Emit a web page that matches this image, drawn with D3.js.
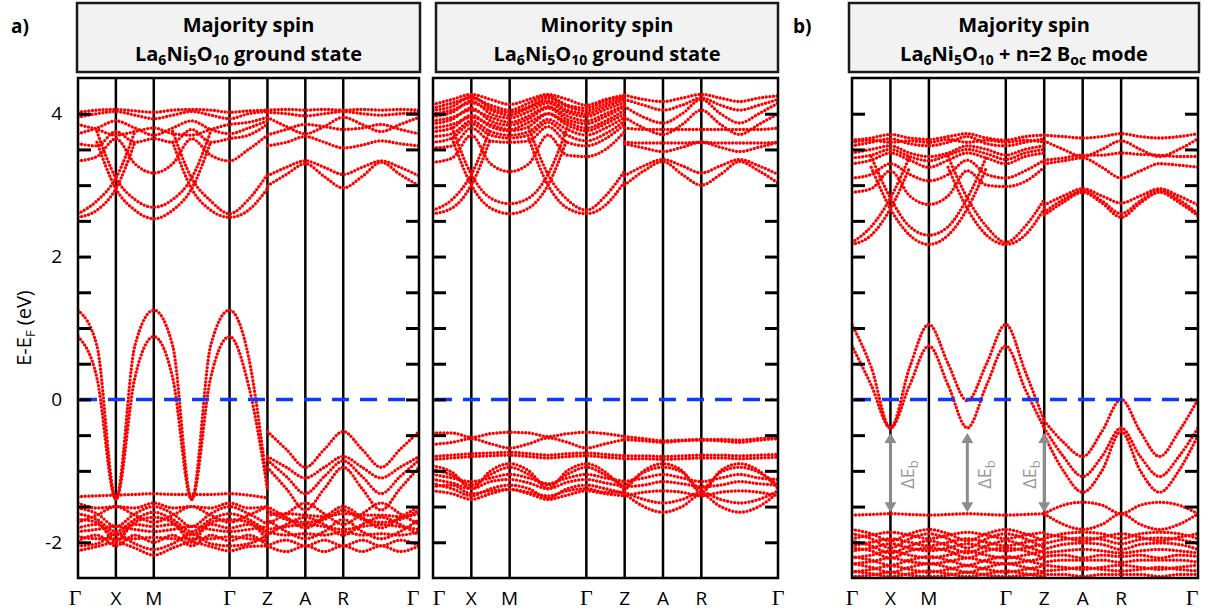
<!DOCTYPE html>
<html>
<head>
<meta charset="utf-8">
<script src="https://cdn.jsdelivr.net/npm/d3@7"></script>
<style>
body { margin: 0; background: #fff; }
text { font-family: "Open Sans", sans-serif; }
</style>
</head>
<body>
<svg id="bands" width="1211" height="613"></svg>
<script>
// k path: Γ X M Γ Z A R Γ
const kPos = [0, 1, 2, 4, 5, 6, 7, 9];
const kNames = ["Γ", "X", "M", "Γ", "Z", "A", "R", "Γ"];
// sampled k points, Γ..Z and Z..Γ
const kLeft = [0, 0.5, 1, 1.5, 2, 2.5, 3, 3.5, 4, 4.5, 5];
const kRight = [5, 5.5, 6, 6.5, 7, 7.5, 8, 8.5, 9];

const yTicks = [-2, -1.5, -1, -0.5, 0, 0.5, 1, 1.5, 2, 2.5, 3, 3.5, 4];
const yLabels = [-2, 0, 2, 4];

const _ = null;

// majority spin, ground state
const majGsLeft = [
  [1.25, 0.75, -1.4, 0.75, 1.25, 0.75, -1.4, 0.75, 1.25, 0.6, -1.25],
  [0.88, 0.3, -1.4, 0.3, 0.88, 0.3, -1.4, 0.3, 0.88, 0.2, -1.25],
  [-1.36, -1.35, -1.34, -1.33, -1.32, -1.33, -1.33, -1.33, -1.32, -1.34, -1.38],
  [-1.45, -1.52, -1.5, -1.52, -1.45, -1.52, -1.5, -1.52, -1.45, -1.52, -1.5],
  [-1.52, -1.6, -1.78, -1.6, -1.5, -1.6, -1.78, -1.6, -1.5, -1.6, -1.75],
  [-1.6, -1.68, -1.85, -1.68, -1.58, -1.68, -1.85, -1.68, -1.6, -1.68, -1.85],
  [-1.72, -1.62, -1.5, -1.62, -1.72, -1.62, -1.5, -1.62, -1.72, -1.62, -1.5],
  [-1.8, -1.75, -1.9, -1.75, -1.78, -1.75, -1.9, -1.75, -1.8, -1.75, -1.9],
  [-1.85, -1.82, -1.78, -1.82, -1.85, -1.82, -1.78, -1.82, -1.85, -1.82, -1.78],
  [-1.92, -1.95, -1.95, -1.95, -1.93, -1.95, -1.95, -1.95, -1.92, -1.95, -1.98],
  [-1.98, -1.9, -2.05, -1.9, -2.0, -1.9, -2.05, -1.9, -1.98, -1.9, -2.05],
  [-2.05, -2.02, -1.88, -2.02, -2.1, -2.02, -1.88, -2.02, -2.05, -2.02, -1.9],
  [-2.12, -2.06, -2.0, -2.08, -2.18, -2.08, -2.0, -2.06, -2.12, -2.06, -2.05],
  [-1.68, -1.72, -1.98, -1.72, -1.65, -1.72, -1.98, -1.72, -1.68, -1.72, -1.98],
  [2.55, 2.65, 2.95, 3.6, _, _, _, _, _, _, _],
  [_, 3.6, 2.95, 2.65, 2.53, 2.65, 2.95, 3.6, _, _, _],
  [_, _, _, _, _, 3.6, 2.95, 2.65, 2.55, 2.65, 2.95],
  [2.6, 2.78, 3.1, 3.75, _, _, _, _, _, _, _],
  [_, 3.75, 3.1, 2.8, 2.69, 2.8, 3.1, 3.75, _, _, _],
  [_, _, _, _, _, 3.75, 3.1, 2.78, 2.6, 2.8, 3.15],
  [3.34, 3.4, 3.65, 3.3, 3.17, 3.3, 3.65, 3.42, 3.34, 3.5, 3.7],
  [3.58, 3.55, 3.75, 3.6, 3.65, 3.6, 3.78, 3.6, 3.65, 3.7, 3.85],
  [3.72, 3.8, 3.9, 3.8, 3.7, 3.8, 3.9, 3.78, 3.72, 3.8, 3.9],
  [3.85, 3.78, 3.7, 3.75, 3.8, 3.72, 3.7, 3.78, 3.85, 3.88, 3.95],
  [3.95, 4.0, 4.03, 3.98, 3.93, 3.98, 4.03, 3.98, 3.93, 4.0, 4.03],
  [4.02, 4.05, 4.06, 4.04, 4.02, 4.05, 4.06, 4.05, 4.02, 4.04, 4.05]
];
const majGsRight = [
  [-0.45, -0.7, -0.95, -0.7, -0.45, -0.7, -0.95, -0.7, -0.45],
  [-0.8, -0.95, -1.1, -0.95, -0.8, -0.95, -1.1, -0.95, -0.8],
  [-0.85, -1.08, -1.32, -1.08, -0.86, -1.08, -1.32, -1.08, -0.85],
  [-0.95, -1.25, -1.55, -1.25, -0.95, -1.25, -1.55, -1.25, -0.95],
  [-1.75, -1.6, -1.45, -1.6, -1.75, -1.6, -1.45, -1.6, -1.75],
  [-1.5, -1.65, -1.8, -1.65, -1.5, -1.65, -1.8, -1.65, -1.5],
  [-1.62, -1.6, -1.62, -1.64, -1.6, -1.62, -1.62, -1.64, -1.6],
  [-1.55, -1.68, -1.72, -1.68, -1.55, -1.68, -1.72, -1.68, -1.55],
  [-1.9, -1.75, -1.65, -1.75, -1.9, -1.75, -1.65, -1.75, -1.9],
  [-1.68, -1.85, -1.95, -1.85, -1.68, -1.85, -1.95, -1.85, -1.68],
  [-1.82, -1.78, -1.75, -1.78, -1.82, -1.78, -1.75, -1.78, -1.82],
  [-1.85, -1.9, -1.88, -1.9, -1.85, -1.9, -1.88, -1.9, -1.85],
  [-2.05, -1.97, -2.05, -1.97, -2.05, -1.97, -2.05, -1.97, -2.05],
  [-2.05, -2.13, -2.05, -2.13, -2.05, -2.13, -2.05, -2.13, -2.05],
  [3.13, 3.25, 3.34, 3.25, 3.15, 3.25, 3.34, 3.25, 3.13],
  [2.99, 3.15, 3.3, 3.12, 2.96, 3.12, 3.32, 3.15, 2.99],
  [3.55, 3.6, 3.68, 3.6, 3.52, 3.56, 3.62, 3.58, 3.55],
  [3.7, 3.78, 3.85, 3.82, 3.78, 3.8, 3.85, 3.78, 3.72],
  [3.95, 3.82, 3.72, 3.82, 3.95, 3.85, 3.75, 3.85, 3.95],
  [4.02, 4.0, 3.97, 4.0, 4.03, 4.0, 3.98, 4.0, 4.02],
  [4.05, 4.06, 4.05, 4.06, 4.05, 4.06, 4.05, 4.06, 4.05]
];

// minority spin, ground state
const minGsLeft = [
  [-0.47, -0.47, -0.53, -0.48, -0.46, -0.47, -0.52, -0.48, -0.46, -0.48, -0.52],
  [-0.63, -0.6, -0.55, -0.62, -0.68, -0.62, -0.54, -0.6, -0.68, -0.62, -0.56],
  [-0.8, -0.78, -0.76, -0.75, -0.74, -0.76, -0.78, -0.76, -0.75, -0.77, -0.79],
  [-0.84, -0.82, -0.8, -0.79, -0.78, -0.8, -0.82, -0.8, -0.79, -0.81, -0.83],
  [-0.93, -1.02, -1.25, -1.0, -0.9, -1.0, -1.25, -1.0, -0.9, -1.02, -1.28],
  [-0.98, -1.06, -1.2, -1.05, -0.95, -1.05, -1.2, -1.05, -0.95, -1.06, -1.22],
  [-1.05, -1.1, -1.15, -1.1, -1.05, -1.1, -1.18, -1.1, -1.05, -1.1, -1.15],
  [-1.12, -1.17, -1.25, -1.15, -1.12, -1.17, -1.25, -1.16, -1.12, -1.17, -1.22],
  [-1.18, -1.25, -1.35, -1.25, -1.2, -1.25, -1.38, -1.25, -1.2, -1.25, -1.32],
  [-1.22, -1.2, -1.32, -1.28, -1.26, -1.3, -1.35, -1.28, -1.25, -1.3, -1.3],
  [-1.28, -1.32, -1.4, -1.32, -1.26, -1.32, -1.4, -1.34, -1.28, -1.32, -1.35],
  [2.6, 2.68, 3.0, 3.65, _, _, _, _, _, _, _],
  [_, 3.65, 3.0, 2.68, 2.6, 2.68, 3.0, 3.65, _, _, _],
  [_, _, _, _, _, 3.65, 3.0, 2.68, 2.6, 2.72, 3.05],
  [2.65, 2.8, 3.15, 3.8, _, _, _, _, _, _, _],
  [_, 3.8, 3.15, 2.82, 2.74, 2.82, 3.15, 3.8, _, _, _],
  [_, _, _, _, _, 3.8, 3.15, 2.8, 2.65, 2.85, 3.2],
  [3.32, 3.38, 3.7, 3.3, 3.19, 3.3, 3.7, 3.42, 3.4, 3.5, 3.75],
  [3.52, 3.55, 3.8, 3.62, 3.6, 3.62, 3.82, 3.6, 3.55, 3.65, 3.85],
  [3.6, 3.66, 3.86, 3.7, 3.66, 3.7, 3.88, 3.7, 3.62, 3.72, 3.9],
  [3.68, 3.72, 3.9, 3.75, 3.7, 3.75, 3.92, 3.78, 3.7, 3.8, 3.95],
  [3.75, 3.8, 3.98, 3.82, 3.76, 3.82, 4.0, 3.84, 3.76, 3.86, 4.0],
  [3.8, 3.85, 3.95, 3.85, 3.78, 3.88, 4.0, 3.88, 3.8, 3.9, 4.05],
  [3.86, 3.92, 4.08, 3.9, 3.84, 3.93, 4.08, 3.92, 3.86, 3.96, 4.1],
  [3.9, 3.95, 4.05, 3.95, 3.88, 3.97, 4.1, 3.97, 3.9, 4.0, 4.12],
  [3.96, 4.02, 4.18, 4.0, 3.94, 4.03, 4.15, 4.02, 3.96, 4.06, 4.16],
  [4.0, 4.05, 4.15, 4.05, 3.98, 4.08, 4.18, 4.05, 4.0, 4.1, 4.2],
  [4.05, 4.1, 4.24, 4.08, 4.02, 4.1, 4.22, 4.1, 4.04, 4.14, 4.23],
  [4.08, 4.15, 4.22, 4.12, 4.05, 4.15, 4.25, 4.12, 4.08, 4.18, 4.25],
  [4.13, 4.2, 4.27, 4.2, 4.13, 4.2, 4.27, 4.2, 4.12, 4.2, 4.26]
];
const minGsRight = [
  [-0.52, -0.55, -0.58, -0.57, -0.56, -0.56, -0.57, -0.55, -0.53],
  [-0.56, -0.58, -0.6, -0.58, -0.57, -0.58, -0.6, -0.57, -0.55],
  [-0.79, -0.79, -0.8, -0.79, -0.78, -0.78, -0.79, -0.78, -0.77],
  [-0.83, -0.83, -0.84, -0.83, -0.82, -0.82, -0.83, -0.82, -0.81],
  [-1.28, -1.0, -0.9, -1.0, -1.3, -1.0, -0.9, -1.0, -1.25],
  [-1.22, -1.02, -0.95, -1.02, -1.25, -1.02, -0.95, -1.02, -1.2],
  [-1.15, -1.1, -1.05, -1.1, -1.15, -1.1, -1.05, -1.1, -1.12],
  [-1.22, -1.2, -1.15, -1.18, -1.22, -1.2, -1.15, -1.18, -1.2],
  [-1.32, -1.5, -1.58, -1.5, -1.33, -1.5, -1.58, -1.5, -1.3],
  [-1.3, -1.4, -1.45, -1.4, -1.3, -1.4, -1.45, -1.4, -1.28],
  [-1.35, -1.3, -1.28, -1.3, -1.35, -1.3, -1.28, -1.3, -1.35],
  [3.0, 3.2, 3.33, 3.15, 3.0, 3.15, 3.33, 3.2, 3.03],
  [3.13, 3.27, 3.36, 3.27, 3.17, 3.27, 3.36, 3.27, 3.15],
  [3.58, 3.52, 3.47, 3.53, 3.6, 3.53, 3.47, 3.53, 3.6],
  [3.6, 3.59, 3.59, 3.59, 3.6, 3.59, 3.59, 3.59, 3.6],
  [3.8, 3.78, 3.78, 3.78, 3.78, 3.78, 3.78, 3.78, 3.8],
  [3.95, 3.8, 3.71, 3.85, 4.05, 3.85, 3.71, 3.85, 4.0],
  [4.1, 3.95, 3.87, 4.0, 4.2, 4.0, 3.87, 4.0, 4.15],
  [4.2, 4.12, 4.05, 4.12, 4.22, 4.12, 4.05, 4.12, 4.2],
  [4.26, 4.2, 4.17, 4.22, 4.27, 4.22, 4.17, 4.22, 4.25]
];

// majority spin, with n=2 B_oc mode
const majModeLeft = [
  [1.05, 0.45, -0.4, 0.45, 1.05, 0.5, -0.02, 0.5, 1.05, 0.4, -0.3],
  [0.75, 0.2, -0.4, 0.2, 0.75, 0.2, -0.4, 0.2, 0.75, 0.15, -0.4],
  [-1.62, -1.61, -1.6, -1.61, -1.62, -1.61, -1.6, -1.61, -1.62, -1.61, -1.6],
  [-1.82, -1.88, -1.98, -1.88, -1.82, -1.88, -1.98, -1.88, -1.82, -1.88, -1.98],
  [-1.95, -1.9, -1.86, -1.9, -1.95, -1.9, -1.86, -1.9, -1.95, -1.9, -1.86],
  [-1.88, -1.95, -2.08, -1.95, -1.88, -1.95, -2.08, -1.95, -1.88, -1.95, -2.08],
  [-2.05, -2.0, -1.95, -2.0, -2.05, -2.0, -1.95, -2.0, -2.05, -2.0, -1.95],
  [-1.98, -2.05, -2.15, -2.05, -1.98, -2.05, -2.15, -2.05, -1.98, -2.05, -2.15],
  [-2.12, -2.08, -2.02, -2.08, -2.12, -2.08, -2.02, -2.08, -2.12, -2.08, -2.02],
  [-2.08, -2.12, -2.22, -2.12, -2.08, -2.12, -2.22, -2.12, -2.08, -2.12, -2.22],
  [-2.22, -2.18, -2.12, -2.18, -2.22, -2.18, -2.12, -2.18, -2.22, -2.18, -2.12],
  [-2.2, -2.25, -2.32, -2.25, -2.2, -2.25, -2.32, -2.25, -2.2, -2.25, -2.32],
  [-2.3, -2.27, -2.22, -2.27, -2.3, -2.27, -2.22, -2.27, -2.3, -2.27, -2.22],
  [-2.3, -2.35, -2.42, -2.35, -2.3, -2.35, -2.42, -2.35, -2.3, -2.35, -2.42],
  [-2.42, -2.38, -2.33, -2.38, -2.42, -2.38, -2.33, -2.38, -2.42, -2.38, -2.33],
  [-2.4, -2.44, -2.48, -2.44, -2.4, -2.44, -2.48, -2.44, -2.4, -2.44, -2.48],
  [-2.48, -2.46, -2.42, -2.46, -2.48, -2.46, -2.42, -2.46, -2.48, -2.46, -2.42],
  [2.17, 2.3, 2.67, 3.25, _, _, _, _, _, _, _],
  [_, 3.25, 2.67, 2.3, 2.17, 2.3, 2.67, 3.25, _, _, _],
  [_, _, _, _, _, 3.25, 2.67, 2.3, 2.17, 2.3, 2.67],
  [2.2, 2.42, 2.82, 3.4, _, _, _, _, _, _, _],
  [_, 3.4, 2.82, 2.42, 2.3, 2.42, 2.82, 3.4, _, _, _],
  [_, _, _, _, _, 3.4, 2.82, 2.42, 2.2, 2.42, 2.8],
  [2.9, 2.95, 3.2, 2.85, 2.73, 2.85, 3.2, 3.0, 2.98, 3.05, 3.25],
  [3.1, 3.15, 3.3, 3.15, 3.06, 3.15, 3.35, 3.15, 3.1, 3.2, 3.35],
  [3.3, 3.35, 3.45, 3.35, 3.25, 3.35, 3.45, 3.38, 3.3, 3.4, 3.45],
  [3.38, 3.42, 3.5, 3.4, 3.34, 3.42, 3.5, 3.44, 3.36, 3.45, 3.5],
  [3.45, 3.5, 3.55, 3.45, 3.4, 3.45, 3.55, 3.5, 3.42, 3.5, 3.55],
  [3.55, 3.6, 3.65, 3.58, 3.55, 3.6, 3.68, 3.58, 3.55, 3.6, 3.65],
  [3.6, 3.63, 3.6, 3.62, 3.6, 3.64, 3.6, 3.63, 3.6, 3.63, 3.6],
  [3.63, 3.66, 3.71, 3.66, 3.64, 3.68, 3.72, 3.66, 3.63, 3.68, 3.7]
];
const majModeRight = [
  [-0.3, -0.6, -0.8, -0.45, 0.0, -0.45, -0.8, -0.45, 0.0],
  [-0.4, -0.8, -1.08, -0.8, -0.4, -0.8, -1.08, -0.8, -0.4],
  [-0.5, -1.0, -1.3, -1.0, -0.45, -1.0, -1.3, -1.0, -0.5],
  [-1.6, -1.48, -1.44, -1.48, -1.6, -1.48, -1.44, -1.48, -1.6],
  [-1.6, -1.75, -1.82, -1.75, -1.6, -1.75, -1.82, -1.75, -1.6],
  [-1.95, -1.88, -1.86, -1.88, -1.95, -1.88, -1.86, -1.88, -1.95],
  [-2.02, -1.96, -1.94, -1.96, -2.02, -1.96, -1.94, -1.96, -2.02],
  [-2.1, -2.03, -2.01, -2.03, -2.1, -2.03, -2.01, -2.03, -2.1],
  [-1.88, -1.93, -1.98, -1.93, -1.88, -1.93, -1.98, -1.93, -1.88],
  [-2.15, -2.12, -2.1, -2.12, -2.15, -2.12, -2.1, -2.12, -2.15],
  [-2.2, -2.18, -2.22, -2.18, -2.2, -2.18, -2.22, -2.18, -2.2],
  [-2.28, -2.25, -2.25, -2.25, -2.28, -2.25, -2.25, -2.25, -2.28],
  [-2.32, -2.35, -2.38, -2.35, -2.32, -2.35, -2.38, -2.35, -2.32],
  [-2.4, -2.38, -2.35, -2.38, -2.4, -2.38, -2.35, -2.38, -2.4],
  [-2.45, -2.45, -2.48, -2.45, -2.45, -2.45, -2.48, -2.45, -2.45],
  [2.72, 2.85, 2.95, 2.85, 2.75, 2.85, 2.95, 2.85, 2.72],
  [2.62, 2.8, 2.92, 2.78, 2.6, 2.78, 2.93, 2.8, 2.6],
  [2.58, 2.76, 2.9, 2.75, 2.55, 2.75, 2.9, 2.76, 2.57],
  [3.3, 3.34, 3.38, 3.25, 3.1, 3.2, 3.3, 3.28, 3.25],
  [3.35, 3.38, 3.42, 3.42, 3.45, 3.43, 3.42, 3.4, 3.4],
  [3.62, 3.5, 3.4, 3.5, 3.62, 3.5, 3.4, 3.5, 3.65],
  [3.7, 3.68, 3.66, 3.68, 3.72, 3.68, 3.66, 3.68, 3.72]
];

// gap arrows in panel b): k position and side of the label
const arrowK = [1, 3, 5];
const arrowSide = [1, 1, -1];
const arrowTop = -0.47;
const arrowBottom = -1.58;

const panels = [
  { x0: 78, x1: 419, box: [77, 420], tag: "a)", tagX: 11, head: "Majority spin",
    sub: [["La", 0], ["6", 1], ["Ni", 0], ["5", 1], ["O", 0], ["10", 1], [" ground state", 0]],
    left: majGsLeft, right: majGsRight, labels: true, arrows: false, edge: [-3, -6] },
  { x0: 433, x1: 778, box: [436, 778], tag: null, head: "Minority spin",
    sub: [["La", 0], ["6", 1], ["Ni", 0], ["5", 1], ["O", 0], ["10", 1], [" ground state", 0]],
    left: minGsLeft, right: minGsRight, labels: false, arrows: false, edge: [6, 0] },
  { x0: 852, x1: 1198, box: [849, 1199], tag: "b)", tagX: 793, head: "Majority spin",
    sub: [["La", 0], ["6", 1], ["Ni", 0], ["5", 1], ["O", 0], ["10", 1], [" + n=2 B", 0], ["oc", 1], [" mode", 0]],
    left: majModeLeft, right: majModeRight, labels: false, arrows: true, edge: [0, -6] }
];

const svg = d3.select("#bands");
const plotTop = 78, plotBottom = 578;
const y = d3.scaleLinear().domain([-2.5, 4.5]).range([plotBottom, plotTop]);

function addSubText(sel, parts, big, small, shift) {
  parts.forEach((p, i) => {
    const prevSub = i > 0 && parts[i - 1][1];
    let dy = 0;
    if (p[1] && !prevSub) dy = shift;
    if (!p[1] && prevSub) dy = -shift;
    sel.append("tspan")
      .attr("dy", dy)
      .style("font-size", (p[1] ? small : big) + "px")
      .text(p[0]);
  });
}

panels.forEach((p, pi) => {
  const x = d3.scaleLinear().domain([0, 9]).range([p.x0, p.x1]);
  const g = svg.append("g");

  // title box
  g.append("rect")
    .attr("x", p.box[0]).attr("y", 3)
    .attr("width", p.box[1] - p.box[0]).attr("height", 69)
    .style("fill", "#f2f2f2").style("stroke", "#1a1a1a").style("stroke-width", 2.5);
  const cx = (p.box[0] + p.box[1]) / 2;
  g.append("text")
    .attr("x", cx).attr("y", 32)
    .attr("text-anchor", "middle")
    .style("font-weight", "bold").style("font-size", "20px")
    .text(p.head);
  const t2 = g.append("text")
    .attr("x", cx).attr("y", 61)
    .attr("text-anchor", "middle")
    .style("font-weight", "bold").style("font-size", "20px");
  addSubText(t2, p.sub, 20, 14, 4);
  if (p.tag) {
    g.append("text")
      .attr("x", p.tagX).attr("y", 33)
      .style("font-weight", "bold").style("font-size", "19px")
      .text(p.tag);
  }

  // clip
  svg.append("clipPath").attr("id", "clip" + pi)
    .append("rect")
    .attr("x", p.x0).attr("y", plotTop)
    .attr("width", p.x1 - p.x0).attr("height", plotBottom - plotTop);

  // high-symmetry lines
  g.selectAll(".kline")
    .data(kPos.slice(1, -1))
    .enter().append("line")
    .attr("x1", d => x(d)).attr("x2", d => x(d))
    .attr("y1", plotTop).attr("y2", plotBottom)
    .style("stroke", "#000").style("stroke-width", 2.5);

  // bands, drawn as dotted curves
  const line = d3.line()
    .defined(d => d[1] != null)
    .x(d => x(d[0]))
    .y(d => y(d[1]))
    .curve(d3.curveMonotoneX);

  const bandG = g.append("g").attr("clip-path", "url(#clip" + pi + ")");
  const series = p.left.map(b => kLeft.map((k, i) => [k, b[i]]))
    .concat(p.right.map(b => kRight.map((k, i) => [k, b[i]])));
  bandG.selectAll(".band")
    .data(series)
    .enter().append("path")
    .classed("band", true)
    .attr("d", line)
    .style("fill", "none")
    .style("stroke", "#ff0000")
    .style("stroke-width", 3.4)
    .style("stroke-linecap", "round")
    .style("stroke-dasharray", "0 3.6");

  // Fermi level
  g.append("line")
    .attr("x1", p.x0 + 2).attr("x2", p.x1 - 6)
    .attr("y1", y(0)).attr("y2", y(0))
    .style("stroke", "#0b3bff").style("stroke-width", 3.5)
    .style("stroke-dasharray", "17 11");

  // gap arrows
  if (p.arrows) {
    const gray = "#8c8c8c";
    const ag = g.append("g");
    arrowK.forEach((k, i) => {
      const ax = x(k);
      const yt = y(arrowTop), yb = y(arrowBottom);
      ag.append("line")
        .attr("x1", ax).attr("x2", ax)
        .attr("y1", yt + 8).attr("y2", yb - 8)
        .style("stroke", gray).style("stroke-width", 3);
      ag.append("path")
        .attr("d", `M${ax},${yt} L${ax - 6},${yt + 10} L${ax + 6},${yt + 10} Z`)
        .style("fill", gray);
      ag.append("path")
        .attr("d", `M${ax},${yb} L${ax - 6},${yb - 10} L${ax + 6},${yb - 10} Z`)
        .style("fill", gray);
      const lx = arrowSide[i] > 0 ? ax + 24 : ax - 8;
      const lt = ag.append("text")
        .attr("transform", `translate(${lx},${y(-1.05)}) rotate(-90)`)
        .attr("text-anchor", "middle")
        .style("fill", "#999").style("font-size", "18px");
      addSubText(lt, [["ΔE", 0], ["b", 1]], 18, 13, 4);
    });
  }

  // y ticks on both sides, pointing inward
  const axL = g.append("g")
    .attr("transform", `translate(${p.x0},0)`)
    .call(d3.axisLeft(y).tickValues(yTicks).tickSize(-13).tickPadding(16)
      .tickFormat(d => (p.labels && yLabels.includes(d)) ? String(d) : ""));
  const axR = g.append("g")
    .attr("transform", `translate(${p.x1},0)`)
    .call(d3.axisRight(y).tickValues(yTicks).tickSize(-13).tickFormat(""));
  [axL, axR].forEach(a => {
    a.select(".domain").remove();
    a.selectAll(".tick line").style("stroke", "#000").style("stroke-width", 3);
    a.selectAll("text").style("font-size", "19px").style("fill", "#000")
      .style("font-family", "'Open Sans', sans-serif");
  });

  // frame
  g.append("rect")
    .attr("x", p.x0).attr("y", plotTop)
    .attr("width", p.x1 - p.x0).attr("height", plotBottom - plotTop)
    .style("fill", "none").style("stroke", "#000").style("stroke-width", 2.5);

  // k-point labels
  const last = kPos.length - 1;
  g.selectAll(".klabel")
    .data(kPos)
    .enter().append("text")
    .attr("x", (d, i) => x(d) + (i === 0 ? p.edge[0] : i === last ? p.edge[1] : 0))
    .attr("y", 605)
    .attr("text-anchor", "middle")
    .style("font-family", (d, i) => kNames[i] === "Γ" ? "'Liberation Serif', serif" : "'Open Sans', sans-serif")
    .style("font-size", (d, i) => kNames[i] === "Γ" ? "22px" : "19px")
    .text((d, i) => kNames[i]);
});

// y axis title
const yTitle = svg.append("text")
  .attr("transform", "translate(31,328) rotate(-90)")
  .attr("text-anchor", "middle")
  .style("font-size", "20px");
addSubText(yTitle, [["E-E", 0], ["F", 1], [" (eV)", 0]], 20, 13, 4);
</script>
</body>
</html>
